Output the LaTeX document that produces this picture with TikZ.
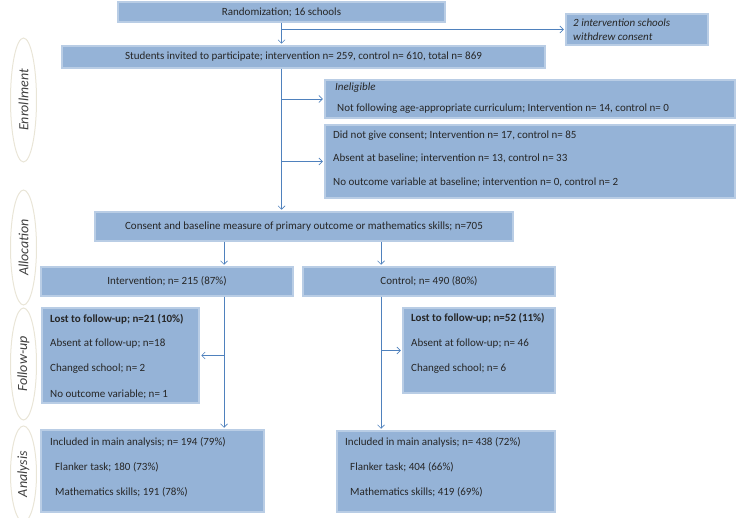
\documentclass[tikz,border=0pt]{standalone}
\usepackage{fontspec}
\setmainfont{Carlito}
\usetikzlibrary{shapes.geometric,arrows.meta}
\definecolor{boxfill}{HTML}{95B3D7}
\definecolor{boxline}{HTML}{B9CDE5}
\definecolor{arrline}{HTML}{4F81BD}
\definecolor{phaseline}{HTML}{E9E5D7}

\begin{document}
\begin{tikzpicture}[x=1pt, y=-1pt,
	flowbox/.style = {draw=boxline, line width=1.5pt, fill=boxfill, inner sep=0pt,
		font=\fontsize{11}{13}\selectfont, text=black!85},
	txt/.style = {font=\fontsize{11}{13}\selectfont, text=black!85, inner sep=0pt,
		anchor=west, text height=7.5pt, text depth=2.5pt},
	arr/.style = {draw=arrline, line width=.7pt, shorten >=1.5pt,
		-{Straight Barb[length=3.5pt,width=7pt]}},
	phase/.style = {ellipse, draw=phaseline, line width=1pt, minimum width=26pt,
		inner sep=0pt, font=\fontsize{14}{16}\selectfont\itshape, text=black!75}]
				\useasboundingbox (0,0) rectangle (736,518);
				% phases
				\node[phase, minimum height=124pt] (enr) at (23.5,100) {\rotatebox{90}{Enrollment}};
				\node[phase, minimum height=115pt] (alo) at (23.5,247.5) {\rotatebox{90}{Allocation}};
				\node[phase, minimum height=112pt] (fol) at (23.5,364) {\rotatebox{90}{Follow-up}};
				\node[phase, minimum height=96pt] (ana) at (23.5,474) {\rotatebox{90}{Analysis}};
				% boxes
				\node[flowbox, minimum width=327pt, minimum height=20pt] (rand) at (281.5,12) {Randomization; 16 schools};
				\node[flowbox, minimum width=142pt, minimum height=31pt] (wd) at (637,29.5) {};
				\node[flowbox, minimum width=483pt, minimum height=22pt] (stud) at (303.5,57)
					{Students invited to participate; intervention n= 259, control n= 610, total n= 869};
				\node[flowbox, minimum width=410pt, minimum height=38pt] (inel) at (530,99) {};
				\node[flowbox, minimum width=410pt, minimum height=73pt] (nocons) at (530,161.5) {};
				\node[flowbox, minimum width=418pt, minimum height=29pt] (cons) at (304,226.5)
					{Consent and baseline measure of primary outcome or mathematics skills; n=705};
				\node[flowbox, minimum width=252pt, minimum height=29pt] (intv) at (167,281.5) {Intervention; n= 215 (87\%)};
				\node[flowbox, minimum width=252pt, minimum height=29pt] (ctrl) at (429,281.5) {Control; n= 490 (80\%)};
				\node[flowbox, minimum width=157pt, minimum height=95pt] (lostI) at (120.5,355.5) {};
				\node[flowbox, minimum width=152pt, minimum height=85pt] (lostC) at (479,350.5) {};
				\node[flowbox, minimum width=223pt, minimum height=82pt] (anI) at (152.5,471) {};
				\node[flowbox, minimum width=218pt, minimum height=81pt] (anC) at (446,471.5) {};
				% texts in boxes
				\node[txt] (wd1) at (573,24) {\itshape 2 intervention schools};
				\node[txt] (wd2) at (573,38) {\itshape withdrew consent};
				\node[txt] (in1) at (335,88) {\itshape Ineligible};
				\node[txt] (in2) at (337,109) {Not following age-appropriate curriculum; Intervention n= 14, control n= 0};
				\node[txt] (nc1) at (333,136) {Did not give consent; Intervention n= 17, control n= 85};
				\node[txt] (nc2) at (333,159) {Absent at baseline; intervention n= 13, control n= 33};
				\node[txt] (nc3) at (333,183) {No outcome variable at baseline; intervention n= 0, control n= 2};
				\node[txt] (li1) at (50,320) {\bfseries Lost to follow-up; n=21 (10\%)};
				\node[txt] (li2) at (50,344.5) {Absent at follow-up; n=18};
				\node[txt] (li3) at (50,369.5) {Changed school; n= 2};
				\node[txt] (li4) at (50,395) {No outcome variable; n= 1};
				\node[txt] (lc1) at (411,319.5) {\bfseries Lost to follow-up; n=52 (11\%)};
				\node[txt] (lc2) at (411,344.5) {Absent at follow-up; n= 46};
				\node[txt] (lc3) at (411,369.5) {Changed school; n= 6};
				\node[txt] (ai1) at (50,443) {Included in main analysis; n= 194 (79\%)};
				\node[txt] (ai2) at (55,468) {Flanker task; 180 (73\%)};
				\node[txt] (ai3) at (55,492.5) {Mathematics skills; 191 (78\%)};
				\node[txt] (ac1) at (345,443) {Included in main analysis; n= 438 (72\%)};
				\node[txt] (ac2) at (350,468) {Flanker task; 404 (66\%)};
				\node[txt] (ac3) at (350,492.5) {Mathematics skills; 419 (69\%)};
				% connectors
				\coordinate (spine) at (stud.south -| rand.south);
				\path (cons.south) ++(-80,0) coordinate (forkI);
				\path (cons.south) ++(77,0) coordinate (forkC);
				\draw[arr] (rand.south) -- (rand.south |- stud.north);
				\draw[arr] (rand.south |- wd.west) -- (wd.west);
				\draw[arr] (spine) -- (spine |- cons.north);
				\draw[arr] (spine |- inel.west) -- (inel.west);
				\draw[arr] (spine |- nocons.west) -- (nocons.west);
				\draw[arr] (forkI) -- (forkI |- intv.north);
				\draw[arr] (forkC) -- (forkC |- ctrl.north);
				\draw[arr] (forkI |- intv.south) -- (forkI |- anI.north);
				\draw[arr] (forkI |- lostI.east) -- (lostI.east);
				\draw[arr] (forkC |- ctrl.south) -- (forkC |- anC.north);
				\draw[arr] (forkC |- lostC.west) -- (lostC.west);
			\end{tikzpicture}
\end{document}
